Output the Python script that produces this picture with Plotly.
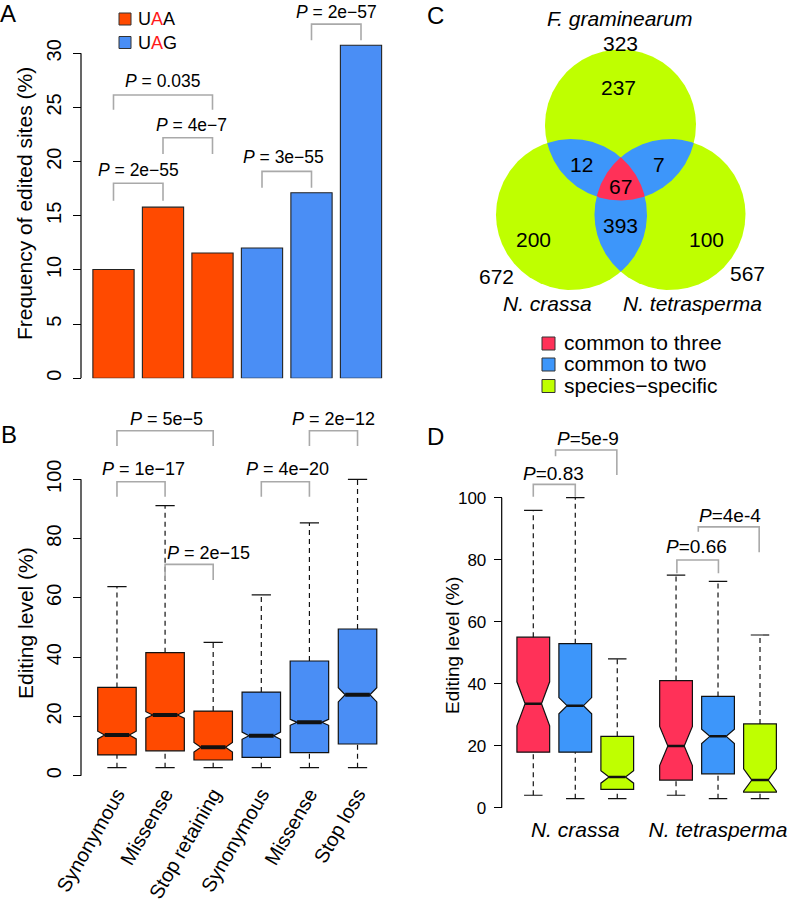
import numpy as np
import plotly.graph_objects as go

W, H = 800, 910
FONT = "Liberation Sans, Arial, sans-serif"

# ---------------- Panel A data ----------------
a_categories = ["Synonymous", "Missense", "Stop retaining", "Synonymous", "Missense", "Stop loss"]
a_codon = ["UAA", "UAA", "UAA", "UAG", "UAG", "UAG"]
a_frequency = [10.05, 15.8, 11.57, 12.03, 17.13, 30.74]
a_pvalues = ["2e−55", "4e−7", "0.035", "3e−55", "2e−57"]

# ---------------- Panel B data ----------------
b_categories = ["Synonymous", "Missense", "Stop retaining", "Synonymous", "Missense", "Stop loss"]
b_codon = ["UAA", "UAA", "UAA", "UAG", "UAG", "UAG"]
b_low = [2.7, 2.7, 2.7, 2.7, 2.7, 2.7]
b_q1 = [7.0, 8.4, 5.3, 6.2, 7.8, 10.7]
b_median = [13.7, 20.5, 9.6, 13.5, 18.0, 27.3]
b_q3 = [29.8, 41.5, 21.8, 28.2, 38.7, 49.5]
b_high = [63.8, 91.1, 45.0, 61.0, 85.3, 100.0]
b_notch = [1.3, 1.1, 1.6, 1.2, 1.0, 2.4]
b_pvalues = ["1e−17", "5e−5", "2e−15", "4e−20", "2e−12"]

# ---------------- Panel C data ----------------
venn_species = ["F. graminearum", "N. crassa", "N. tetrasperma"]
venn_totals = [323, 672, 567]
venn_only = [237, 200, 100]
venn_pair_names = ["Fg & Nc", "Fg & Nt", "Nc & Nt"]
venn_pairs = [12, 7, 393]
venn_all = 67
venn_legend = ["common to three", "common to two", "species−specific"]

# ---------------- Panel D data ----------------
d_species = ["N. crassa", "N. tetrasperma"]
d_category = ["common to three", "common to two", "species-specific"] * 2
d_low = [4.0, 2.9, 2.9, 4.0, 2.9, 2.9]
d_q1 = [17.9, 17.9, 5.9, 8.9, 10.9, 5.0]
d_median = [33.5, 32.9, 9.9, 19.9, 23.0, 8.9]
d_q3 = [55.0, 52.9, 23.0, 41.0, 35.9, 27.0]
d_high = [95.9, 100.0, 48.0, 75.0, 73.0, 55.7]
d_notch = [7.1, 2.6, 2.0, 6.3, 2.3, 3.6]
d_pvalues = ["0.83", "5e-9", "0.66", "4e-4"]

# ---------------- styles / layout helpers ----------------
ORANGE = "#FF4A00"
BLUE_AB = "#4A8EF5"
RED_CD = "#FF3158"
BLUE_CD = "#3D96FA"
GREEN_CD = "#BFFF00"
GRAY = "#A9A9A9"
codon_color = {"UAA": ORANGE, "UAG": BLUE_AB}
cat_color = {"common to three": RED_CD, "common to two": BLUE_CD, "species-specific": GREEN_CD}


def px(x, y):
    return x / W, 1 - y / H


fig = go.Figure()
annotations = []
shapes = []


def ann(x, y, text, size, xref="paper", yref="paper", **kw):
    if xref == "paper":
        x = x / W
    if yref == "paper":
        y = 1 - y / H
    d = dict(x=x, y=y, xref=xref, yref=yref, text=text, showarrow=False,
             xanchor="center", yanchor="middle",
             font=dict(family=FONT, size=size, color="black"))
    d.update(kw)
    annotations.append(d)


def bracket(xa, ya, x0, x1, top, l0, l1):
    fig.add_trace(go.Scatter(x=[x0, x0, x1, x1], y=[l0, top, top, l1], mode="lines",
                             line=dict(color=GRAY, width=1.6), xaxis=xa, yaxis=ya,
                             hoverinfo="skip", showlegend=False, cliponaxis=False))


# ================= Panel A =================
a_pos = list(range(1, len(a_frequency) + 1))
fig.add_trace(go.Bar(x=a_pos, y=a_frequency, width=0.833,
                     marker=dict(color=[codon_color[c] for c in a_codon],
                                 line=dict(color="#222", width=1.1)),
                     xaxis="x", yaxis="y", showlegend=False, hoverinfo="skip"))
# bracket layout: (x0, x1, top, leg0, leg1, text_x, text_y)
a_brackets = [(1, 2, 18.0, 16.4, 16.4, 1.5, 19.2),
              (2, 3, 22.2, 20.7, 20.7, 2.58, 23.4),
              (1, 3, 26.15, 24.8, 24.8, 1.99, 27.4),
              (4, 5, 19.1, 17.6, 17.6, 4.44, 20.4),
              (5, 6, 32.7, 31.2, 31.2, 5.51, 33.8)]
for (x0, x1, t, l0, l1, tx, ty), p in zip(a_brackets, a_pvalues):
    bracket("x", "y", x0, x1, t, l0, l1)
    ann(tx, ty, "<i>P</i> = " + p, 17.5, xref="x", yref="y")
shapes.append(dict(type="line", xref="paper", yref="y", x0=81 / W, x1=81 / W, y0=0, y1=30,
                   line=dict(color="black", width=1.2)))
# legend A
for (cy, cod, txt) in [(19, "UAA", "U<span style='color:#FF1A1A'>A</span>A"),
                       (42.5, "UAG", "U<span style='color:#FF1A1A'>A</span>G")]:
    x0, y0 = px(119, cy - 6)
    x1, y1 = px(131, cy + 6)
    shapes.append(dict(type="rect", xref="paper", yref="paper", x0=x0, x1=x1, y0=y0, y1=y1,
                       fillcolor=codon_color[cod], line=dict(color="#333", width=1)))
    ann(136, cy, txt, 18, xanchor="left")

# ================= Panel B =================
b_pos = list(range(1, len(b_median) + 1))
B_W = 0.8
B_NW = 0.18
for i, p in enumerate(b_pos):
    fig.add_trace(go.Box(x=[p], q1=[b_q1[i]], median=[b_median[i]], q3=[b_q3[i]],
                         lowerfence=[b_q1[i]], upperfence=[b_q3[i]], notched=True,
                         notchspan=[b_notch[i]], notchwidth=B_NW, width=B_W, whiskerwidth=0,
                         fillcolor=codon_color[b_codon[i]], line=dict(color="#111", width=1.2),
                         boxpoints=False, xaxis="x2", yaxis="y2", showlegend=False,
                         hoverinfo="skip"))
wx, wy, cx_, cy_, mx, my = [], [], [], [], [], []
for i, p in enumerate(b_pos):
    wx += [p, p, None, p, p, None]
    wy += [b_low[i], b_q1[i], None, b_q3[i], b_high[i], None]
    cx_ += [p - 0.2, p + 0.2, None, p - 0.2, p + 0.2, None]
    cy_ += [b_low[i], b_low[i], None, b_high[i], b_high[i], None]
    hw = B_W / 2 * (1 - 2 * B_NW)
    mx += [p - hw, p + hw, None]
    my += [b_median[i], b_median[i], None]
fig.add_trace(go.Scatter(x=wx, y=wy, mode="lines", line=dict(color="#111", width=1.2, dash="5px,4px"),
                         xaxis="x2", yaxis="y2", showlegend=False, hoverinfo="skip"))
fig.add_trace(go.Scatter(x=cx_, y=cy_, mode="lines", line=dict(color="#111", width=1.2),
                         xaxis="x2", yaxis="y2", showlegend=False, hoverinfo="skip"))
fig.add_trace(go.Scatter(x=mx, y=my, mode="lines", line=dict(color="#111", width=4),
                         xaxis="x2", yaxis="y2", showlegend=False, hoverinfo="skip"))
b_brackets = [(1, 2, 99.2, 94.1, 94.1, 1.55, 103.6),
              (1, 3, 116.4, 111.2, 111.2, 2.03, 120.3),
              (2, 3, 71.3, 66.0, 66.0, 2.90, 75.3),
              (4, 5, 99.2, 94.1, 94.1, 4.54, 103.6),
              (5, 6, 116.4, 111.2, 111.2, 5.50, 120.3)]
for (x0, x1, t, l0, l1, tx, ty), p in zip(b_brackets, b_pvalues):
    bracket("x2", "y2", x0, x1, t, l0, l1)
    ann(tx, ty, "<i>P</i> = " + p, 18, xref="x2", yref="y2")
shapes.append(dict(type="line", xref="paper", yref="y2", x0=81 / W, x1=81 / W, y0=0, y1=100,
                   line=dict(color="black", width=1.2)))

# ================= Panel C (Venn) =================
R = 75.5
centers = [(620.5, 125.0), (571.5, 214.5), (670.0, 214.5)]


def region(idx):
    th = np.linspace(0, 2 * np.pi, 1441)
    pts = []
    for i in idx:
        cx, cy = centers[i]
        x = cx + R * np.cos(th)
        y = cy + R * np.sin(th)
        m = np.ones_like(x, dtype=bool)
        for j in idx:
            if j != i:
                m &= (x - centers[j][0]) ** 2 + (y - centers[j][1]) ** 2 <= R ** 2 + 1e-6
        pts.append(np.c_[x[m], y[m]])
    P = np.vstack(pts)
    c = P.mean(0)
    P = P[np.argsort(np.arctan2(P[:, 1] - c[1], P[:, 0] - c[0]))]
    P = np.vstack([P, P[:1]])
    return P[:, 0], P[:, 1]


for idx, col in [((0,), GREEN_CD), ((1,), GREEN_CD), ((2,), GREEN_CD),
                 ((0, 1), BLUE_CD), ((0, 2), BLUE_CD), ((1, 2), BLUE_CD),
                 ((0, 1, 2), RED_CD)]:
    x, y = region(idx)
    fig.add_trace(go.Scatter(x=x, y=y, mode="lines", fill="toself", fillcolor=col,
                             line=dict(width=0, color=col), xaxis="x4", yaxis="y4",
                             showlegend=False, hoverinfo="skip"))
VF = 21
# species names and totals
ann(620, 18, "<i>" + venn_species[0] + "</i>", VF)
ann(620, 43, str(venn_totals[0]), VF)
ann(547, 304, "<i>" + venn_species[1] + "</i>", VF)
ann(496, 276, str(venn_totals[1]), VF)
ann(692, 304, "<i>" + venn_species[2] + "</i>", VF)
ann(747, 273, str(venn_totals[2]), VF)
# region counts
for (x, y), v in zip([(618, 87), (533, 240), (706, 240)], venn_only):
    ann(x, y, str(v), VF)
for (x, y), v in zip([(581, 164), (659, 164), (620, 225)], venn_pairs):
    ann(x, y, str(v), VF)
ann(620, 187, str(venn_all), VF)
# legend C
for (cy, lab, col) in zip([343.5, 364.5, 386.0], venn_legend, [RED_CD, BLUE_CD, GREEN_CD]):
    x0, y0 = px(542, cy - 6.5)
    x1, y1 = px(555, cy + 6.5)
    shapes.append(dict(type="rect", xref="paper", yref="paper", x0=x0, x1=x1, y0=y0, y1=y1,
                       fillcolor=col, line=dict(color="#333", width=1)))
    ann(562, cy - 1, lab, VF, xanchor="left")

# ================= Panel D =================
d_pos = [1, 2, 3, 4.4, 5.4, 6.4]
D_W = 0.78
D_NW = 0.25
for i, p in enumerate(d_pos):
    fig.add_trace(go.Box(x=[p], q1=[d_q1[i]], median=[d_median[i]], q3=[d_q3[i]],
                         lowerfence=[d_q1[i]], upperfence=[d_q3[i]], notched=True,
                         notchspan=[d_notch[i]], notchwidth=D_NW, width=D_W, whiskerwidth=0,
                         fillcolor=cat_color[d_category[i]], line=dict(color="#111", width=1.2),
                         boxpoints=False, xaxis="x3", yaxis="y3", showlegend=False,
                         hoverinfo="skip"))
wx, wy, cx_, cy_, mx, my = [], [], [], [], [], []
for i, p in enumerate(d_pos):
    wx += [p, p, None, p, p, None]
    wy += [d_low[i], d_q1[i], None, d_q3[i], d_high[i], None]
    cx_ += [p - 0.22, p + 0.22, None, p - 0.22, p + 0.22, None]
    cy_ += [d_low[i], d_low[i], None, d_high[i], d_high[i], None]
    hw = D_W / 2 * (1 - 2 * D_NW)
    mx += [p - hw, p + hw, None]
    my += [d_median[i], d_median[i], None]
fig.add_trace(go.Scatter(x=wx, y=wy, mode="lines", line=dict(color="#111", width=1.2, dash="5px,4px"),
                         xaxis="x3", yaxis="y3", showlegend=False, hoverinfo="skip"))
fig.add_trace(go.Scatter(x=cx_, y=cy_, mode="lines", line=dict(color="#111", width=1.2),
                         xaxis="x3", yaxis="y3", showlegend=False, hoverinfo="skip"))
fig.add_trace(go.Scatter(x=mx, y=my, mode="lines", line=dict(color="#111", width=2.5),
                         xaxis="x3", yaxis="y3", showlegend=False, hoverinfo="skip"))
d_brackets = [(1, 2, 104.3, 100.3, 100.3, 1.47, 107.9),
              (1.53, 2.99, 115.4, 113.4, 107.3, 2.31, 119.2),
              (4.42, 5.41, 79.9, 75.6, 75.6, 4.89, 84.2),
              (4.93, 6.38, 90.6, 89.0, 82.4, 5.69, 94.2)]
for (x0, x1, t, l0, l1, tx, ty), p in zip(d_brackets, d_pvalues):
    bracket("x3", "y3", x0, x1, t, l0, l1)
    ann(tx, ty, "<i>P</i>=" + p, 19, xref="x3", yref="y3")
shapes.append(dict(type="line", xref="paper", yref="y3", x0=501.7 / W, x1=501.7 / W, y0=0, y1=100,
                   line=dict(color="black", width=1.2)))

# ================= titles, panel labels =================
ann(8, 14, "A", 24)
ann(8.5, 434, "B", 24)
ann(435.5, 15.5, "C", 24)
ann(435.5, 436, "D", 24)
ann(25, 204, "Frequency of edited sites (%)", 21, textangle=-90)
ann(25, 623, "Editing level (%)", 21, textangle=-90)
ann(452, 645, "Editing level (%)", 19, textangle=-90)

tick_common = dict(showgrid=False, zeroline=False, showline=False, ticks="outside", ticklen=8,
                   tickwidth=1.2, tickcolor="black", automargin=False)

fig.update_layout(
    width=W, height=H, margin=dict(l=0, r=0, t=0, b=0, autoexpand=False),
    paper_bgcolor="white", plot_bgcolor="rgba(0,0,0,0)",
    font=dict(family=FONT, color="black"), boxmode="overlay", showlegend=False,
    xaxis=dict(domain=[83.8 / W, 390.7 / W], range=[0.4, 6.6], visible=False, anchor="y",
               automargin=False),
    yaxis=dict(domain=[1 - 378.3 / H, 1 - 10 / H], range=[0, 34], anchor="free", position=81 / W,
               tickvals=[0, 5, 10, 15, 20, 25, 30], tickangle=-90, ticklabelstandoff=4,
               tickfont=dict(size=20, family=FONT), **tick_common),
    xaxis2=dict(domain=[88.1 / W, 386.4 / W], range=[0.4, 6.6], anchor="y2",
                tickvals=b_pos, ticktext=b_categories, tickangle=-60, ticks="", showline=False,
                showgrid=False, zeroline=False, tickfont=dict(size=20, family=FONT),
                ticklabelstandoff=-7, automargin=False),
    yaxis2=dict(domain=[1 - 784.6 / H, 1 - 414.1 / H], range=[-3, 122], anchor="free", position=81 / W,
                tickvals=[0, 20, 40, 60, 80, 100], tickangle=-90, ticklabelstandoff=4,
                tickfont=dict(size=20, family=FONT), **tick_common),
    xaxis3=dict(domain=[508.1 / W, 781 / W], range=[0.4, 6.9], anchor="y3",
                tickvals=[2, 5.4], ticktext=["<i>" + s + "</i>" for s in d_species],
                ticks="", showline=False, showgrid=False, zeroline=False,
                tickfont=dict(size=21, family=FONT), automargin=False),
    yaxis3=dict(domain=[1 - 815.4 / H, 1 - 420.2 / H], range=[-2.5, 125], anchor="free",
                position=501.7 / W, tickvals=[0, 20, 40, 60, 80, 100], ticklabelstandoff=4,
                tickfont=dict(size=17, family=FONT), **tick_common),
    xaxis4=dict(domain=[0.5, 1.0], range=[400, 800], visible=False, anchor="y4", automargin=False),
    yaxis4=dict(domain=[1 - 420 / H, 1.0], range=[420, 0], visible=False, anchor="x4",
                automargin=False),
    annotations=annotations, shapes=shapes,
)

fig.write_html("out.html", config={"displayModeBar": False},
               post_script="document.body.style.margin='0px';document.body.style.overflow='hidden';")
